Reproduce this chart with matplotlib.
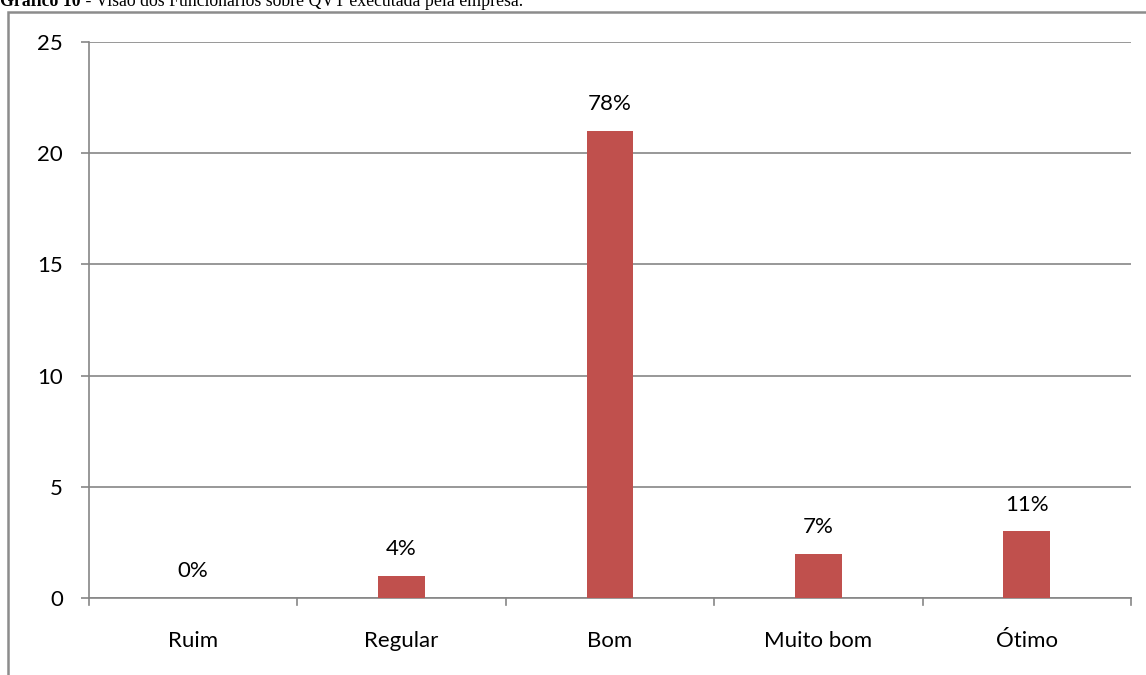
import matplotlib
matplotlib.use("Agg")
import matplotlib.pyplot as plt
from matplotlib.patches import Rectangle
from matplotlib.lines import Line2D

categories = ["Ruim", "Regular", "Bom", "Muito bom", "Ótimo"]
counts = [0, 1, 21, 2, 3]
pct_labels = ["0%", "4%", "78%", "7%", "11%"]
y_ticks = [0, 5, 10, 15, 20, 25]

W, H = 1146, 675
FS = 16
GRAY = "#868686"
fig = plt.figure(figsize=(W / 100, H / 100), dpi=100)
fig.patch.set_facecolor("white")

# outer chart frame (runs off the right and bottom edges)
fig.add_artist(Rectangle((8 / W, -0.1), 1.2, 1 - 12 / H + 0.1, transform=fig.transFigure,
                         fill=False, edgecolor="#8c8c8c", linewidth=1.8, clip_on=False))

# caption, partly above the top edge
base_y = 1 - 6 / H
t1 = fig.text(0, base_y, "Gráfico 10", family="Liberation Serif", weight="bold",
              fontsize=12.8, va="baseline", ha="left", color="black")
fig.canvas.draw()
x_end = t1.get_window_extent().x1 / W
fig.text(x_end, base_y, " - Visão dos Funcionários sobre QVT executada pela empresa.",
         family="Liberation Serif", fontsize=12.8, va="baseline", ha="left", color="black")

ax = fig.add_axes([89 / W, 1 - 598 / H, (1131 - 89) / W, (598 - 42) / H])
x = list(range(len(categories)))
ax.bar(x, counts, width=0.225, color="#c0504d", zorder=3)
ax.set_xlim(-0.5, len(categories) - 0.5)
ax.set_ylim(0, 25)
ax.set_yticks(y_ticks)
ax.set_yticklabels([str(v) for v in y_ticks])
ax.set_xticks(x)
ax.set_xticklabels(categories)
ax.tick_params(axis="x", length=0, pad=24, labelsize=FS)
ax.tick_params(axis="y", length=5.8, width=1.2, color=GRAY, pad=13, labelsize=FS)
for lbl in ax.get_xticklabels() + ax.get_yticklabels():
    lbl.set_family("Lato")

ax.grid(axis="y", color=GRAY, linewidth=1.2, zorder=0)
for s in ["top", "right"]:
    ax.spines[s].set_visible(False)
for s in ["left", "bottom"]:
    ax.spines[s].set_color(GRAY)
    ax.spines[s].set_linewidth(1.2)

# category separator ticks below the axis
for b in [i - 0.5 for i in range(len(categories) + 1)]:
    ax.add_line(Line2D([b, b], [0, -0.3], color=GRAY, linewidth=1.2, clip_on=False,
                       transform=ax.transData))

for xi, v, t in zip(x, counts, pct_labels):
    ax.annotate(t, (xi, v), xytext=(0, 12), textcoords="offset points", ha="center",
                va="bottom", fontsize=FS, family="Lato")

fig.savefig("out.png", dpi=100)
